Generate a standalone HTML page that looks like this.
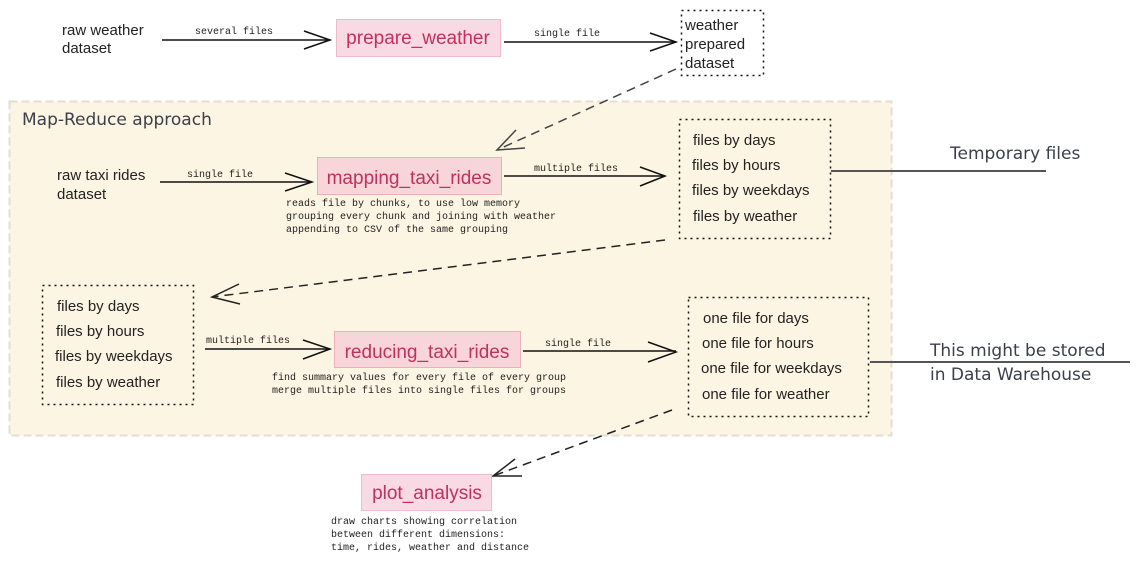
<!DOCTYPE html>
<html><head><meta charset="utf-8"><style>
html,body{margin:0;padding:0;background:#fff;}
svg{display:block;}
.sans{font-family:"Liberation Sans",sans-serif;fill:#222;}
.mono{font-family:"Liberation Mono",monospace;font-size:10px;fill:#222;}
.proc{font-family:"Liberation Sans",sans-serif;font-size:19px;fill:#c2305e;}
.hand{font-family:"DejaVu Sans",sans-serif;fill:#3a3f4a;}
</style></head><body>
<svg width="1140" height="561" viewBox="0 0 1140 561" xmlns="http://www.w3.org/2000/svg">
<!-- Map-Reduce area -->
<rect x="9.5" y="101.5" width="882" height="334" fill="#fdf5e4" stroke="#e3ddd3" stroke-width="2" stroke-dasharray="8 4"/>
<text x="22" y="125" class="hand" font-size="17">Map-Reduce approach</text>

<!-- row 1 -->
<text x="62" y="35" class="sans" font-size="15">raw weather</text>
<text x="62" y="53" class="sans" font-size="15">dataset</text>
<text x="195" y="34" class="mono">several files</text>
<line x1="162" y1="40" x2="330" y2="40" stroke="#111" stroke-width="1.5"/>
<polyline points="304,31 330,40 304,49" fill="none" stroke="#111" stroke-width="1.5"/>
<rect x="336.5" y="19.5" width="164" height="37" fill="#f9d9e3" stroke="#eebccb"/>
<text x="418" y="44" class="proc" text-anchor="middle">prepare_weather</text>
<text x="534" y="36" class="mono">single file</text>
<line x1="504" y1="42" x2="676" y2="42" stroke="#111" stroke-width="1.5"/>
<polyline points="650,33 676,42 650,51" fill="none" stroke="#111" stroke-width="1.5"/>
<rect x="681.5" y="10.5" width="82" height="65" fill="none" stroke="#111" stroke-width="1.5" stroke-dasharray="2 4"/>
<text x="685" y="30" class="sans" font-size="15">weather</text>
<text x="685" y="49" class="sans" font-size="15">prepared</text>
<text x="685" y="68" class="sans" font-size="15">dataset</text>

<!-- dashed to mapping -->
<line x1="676" y1="69" x2="497" y2="150" stroke="#444" stroke-width="1.5" stroke-dasharray="9 6"/>
<polyline points="516,130 497,150 525,148" fill="none" stroke="#444" stroke-width="1.5"/>

<!-- row 2 -->
<text x="57" y="180" class="sans" font-size="15">raw taxi rides</text>
<text x="57" y="199" class="sans" font-size="15">dataset</text>
<text x="187" y="177" class="mono">single file</text>
<line x1="160" y1="182" x2="312" y2="182" stroke="#111" stroke-width="1.5"/>
<polyline points="285,173 312,182 285,191" fill="none" stroke="#111" stroke-width="1.5"/>
<rect x="317.5" y="157.5" width="184" height="37" fill="#f8d5d8" stroke="#eab3bb"/>
<text x="409" y="184" class="proc" text-anchor="middle">mapping_taxi_rides</text>
<text x="286" y="206" class="mono">reads file by chunks, to use low memory</text>
<text x="286" y="219" class="mono">grouping every chunk and joining with weather</text>
<text x="286" y="232" class="mono">appending to CSV of the same grouping</text>
<text x="534" y="171" class="mono">multiple files</text>
<line x1="504" y1="176" x2="665" y2="176" stroke="#111" stroke-width="1.5"/>
<polyline points="640,167 665,176 640,186" fill="none" stroke="#111" stroke-width="1.5"/>
<rect x="679.5" y="119.5" width="151" height="119" fill="none" stroke="#111" stroke-width="1.5" stroke-dasharray="2 4"/>
<text x="693" y="145" class="sans" font-size="15">files by days</text>
<text x="692" y="170" class="sans" font-size="15">files by hours</text>
<text x="692" y="195" class="sans" font-size="15">files by weekdays</text>
<text x="693" y="221" class="sans" font-size="15">files by weather</text>
<line x1="831" y1="171" x2="1046" y2="171" stroke="#555" stroke-width="2"/>
<text x="950" y="159" class="hand" font-size="17">Temporary files</text>

<!-- dashed to files box 2 -->
<line x1="665" y1="240" x2="212" y2="297" stroke="#222" stroke-width="1.5" stroke-dasharray="9 6"/>
<polyline points="239,284 212,297 240,304" fill="none" stroke="#222" stroke-width="1.5"/>

<!-- row 3 -->
<rect x="42.5" y="285.5" width="151" height="119" fill="none" stroke="#111" stroke-width="1.5" stroke-dasharray="2 4"/>
<text x="57" y="311" class="sans" font-size="15">files by days</text>
<text x="56" y="336" class="sans" font-size="15">files by hours</text>
<text x="55" y="361" class="sans" font-size="15">files by weekdays</text>
<text x="56" y="387" class="sans" font-size="15">files by weather</text>
<text x="206" y="343" class="mono">multiple files</text>
<line x1="205" y1="349" x2="330" y2="349" stroke="#111" stroke-width="1.5"/>
<polyline points="303,340 330,349 303,359" fill="none" stroke="#111" stroke-width="1.5"/>
<rect x="334.5" y="331.5" width="186" height="36" fill="#f8d5d8" stroke="#eab3bb"/>
<text x="427" y="358" class="proc" text-anchor="middle">reducing_taxi_rides</text>
<text x="272" y="380" class="mono">find summary values for every file of every group</text>
<text x="272" y="393" class="mono">merge multiple files into single files for groups</text>
<text x="545" y="346" class="mono">single file</text>
<line x1="523" y1="351" x2="676" y2="351" stroke="#111" stroke-width="1.5"/>
<polyline points="648,342 676,352 648,362" fill="none" stroke="#111" stroke-width="1.5"/>
<rect x="688.5" y="297.5" width="180" height="119" fill="none" stroke="#111" stroke-width="1.5" stroke-dasharray="2 4"/>
<text x="703" y="323" class="sans" font-size="15">one file for days</text>
<text x="702" y="348" class="sans" font-size="15">one file for hours</text>
<text x="701" y="373" class="sans" font-size="15">one file for weekdays</text>
<text x="702" y="399" class="sans" font-size="15">one file for weather</text>
<line x1="870" y1="362" x2="1130" y2="362" stroke="#555" stroke-width="2"/>
<text x="930" y="356" class="hand" font-size="17">This might be stored</text>
<text x="930" y="380" class="hand" font-size="17">in Data Warehouse</text>

<!-- dashed to plot -->
<line x1="672" y1="410" x2="493" y2="476" stroke="#222" stroke-width="1.5" stroke-dasharray="9 6"/>
<polyline points="515,459 493,476 522,476" fill="none" stroke="#222" stroke-width="1.5"/>
<rect x="361.5" y="474.5" width="130" height="36" fill="#f9d9e3" stroke="#eebccb"/>
<text x="427" y="499" class="proc" text-anchor="middle">plot_analysis</text>
<text x="331" y="524" class="mono">draw charts showing correlation</text>
<text x="331" y="537" class="mono">between different dimensions:</text>
<text x="331" y="550" class="mono">time, rides, weather and distance</text>
</svg>
</body></html>
